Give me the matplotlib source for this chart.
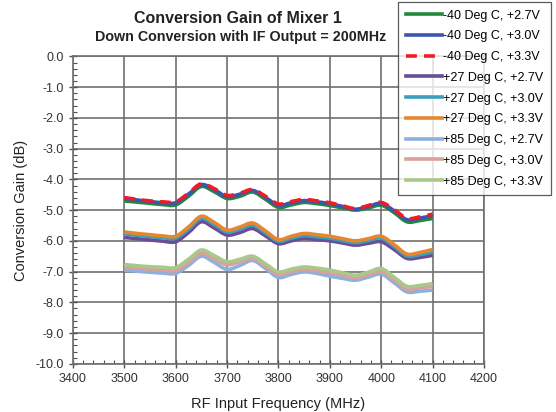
import matplotlib
matplotlib.use("Agg")
import matplotlib.pyplot as plt
from matplotlib.ticker import MultipleLocator, FormatStrFormatter
from matplotlib.path import Path
from matplotlib.patches import PathPatch
from matplotlib.lines import Line2D

plt.rcParams['font.family'] = ['Liberation Sans', 'DejaVu Sans']

freq = [3500, 3525, 3550, 3575, 3600, 3625, 3650, 3675, 3700, 3725, 3750, 3775, 3800,
        3825, 3850, 3875, 3900, 3925, 3950, 3975, 4000, 4025, 4050, 4075, 4100]

m40_27 = [-4.70, -4.74, -4.78, -4.82, -4.83, -4.55, -4.23, -4.40, -4.62, -4.55, -4.41, -4.65, -4.91,
          -4.83, -4.75, -4.79, -4.85, -4.93, -5.00, -4.93, -4.84, -5.08, -5.38, -5.34, -5.27]
m40_30 = [-4.62, -4.67, -4.72, -4.76, -4.76, -4.48, -4.17, -4.33, -4.56, -4.48, -4.36, -4.59, -4.84,
          -4.76, -4.69, -4.73, -4.79, -4.88, -4.97, -4.88, -4.78, -5.02, -5.31, -5.26, -5.18]
m40_33 = [-4.59, -4.65, -4.70, -4.73, -4.73, -4.45, -4.14, -4.30, -4.52, -4.45, -4.33, -4.55, -4.80,
          -4.72, -4.65, -4.70, -4.76, -4.86, -4.95, -4.85, -4.75, -4.98, -5.27, -5.22, -5.13]
p27_27 = [-5.89, -5.93, -5.97, -6.01, -6.03, -5.73, -5.38, -5.58, -5.81, -5.73, -5.60, -5.84, -6.09,
          -6.00, -5.92, -5.96, -6.00, -6.07, -6.14, -6.08, -6.03, -6.28, -6.57, -6.54, -6.47]
p27_30 = [-5.77, -5.82, -5.86, -5.90, -5.91, -5.62, -5.27, -5.47, -5.71, -5.62, -5.49, -5.74, -6.01,
          -5.91, -5.83, -5.87, -5.91, -5.99, -6.06, -5.99, -5.91, -6.18, -6.49, -6.45, -6.36]
p27_33 = [-5.71, -5.76, -5.80, -5.84, -5.85, -5.55, -5.20, -5.40, -5.65, -5.55, -5.42, -5.68, -5.96,
          -5.85, -5.76, -5.80, -5.85, -5.93, -6.00, -5.93, -5.85, -6.12, -6.43, -6.38, -6.28]
p85_27 = [-6.95, -6.99, -7.02, -7.05, -7.06, -6.80, -6.50, -6.70, -6.93, -6.80, -6.64, -6.90, -7.19,
          -7.09, -7.01, -7.06, -7.15, -7.22, -7.28, -7.18, -7.08, -7.36, -7.66, -7.64, -7.60]
p85_30 = [-6.85, -6.89, -6.92, -6.95, -6.96, -6.70, -6.40, -6.58, -6.78, -6.68, -6.57, -6.83, -7.10,
          -7.00, -6.93, -6.97, -7.04, -7.12, -7.20, -7.10, -6.99, -7.27, -7.57, -7.53, -7.48]
p85_33 = [-6.77, -6.81, -6.84, -6.86, -6.87, -6.60, -6.30, -6.48, -6.68, -6.60, -6.50, -6.75, -7.01,
          -6.92, -6.85, -6.89, -6.95, -7.04, -7.12, -7.02, -6.90, -7.18, -7.48, -7.45, -7.39]

labels = ['-40 Deg C, +2.7V', '-40 Deg C, +3.0V', '-40 Deg C, +3.3V',
          '+27 Deg C, +2.7V', '+27 Deg C, +3.0V', '+27 Deg C, +3.3V',
          '+85 Deg C, +2.7V', '+85 Deg C, +3.0V', '+85 Deg C, +3.3V']
series = [m40_27, m40_30, m40_33, p27_27, p27_30, p27_33, p85_27, p85_30, p85_33]
colors = ['#1f8a3c', '#3b55b0', '#ee1c25', '#6b4c96', '#3a9fbc', '#e8862e',
          '#8eb0dd', '#d9a09e', '#a8c98a']
styles = ['-', '-', '--', '-', '-', '-', '-', '-', '-']


def smooth_path(x, y):
    # excel-style smoothed line: catmull-rom segments as cubic beziers
    n = len(x)
    verts = [(x[0], y[0])]
    codes = [Path.MOVETO]
    for i in range(n - 1):
        x0, y0 = (x[i - 1], y[i - 1]) if i > 0 else (x[i], y[i])
        x3, y3 = (x[i + 2], y[i + 2]) if i + 2 < n else (x[i + 1], y[i + 1])
        c1 = (x[i] + (x[i + 1] - x0) / 6.0, y[i] + (y[i + 1] - y0) / 6.0)
        c2 = (x[i + 1] - (x3 - x[i]) / 6.0, y[i + 1] - (y3 - y[i]) / 6.0)
        verts += [c1, c2, (x[i + 1], y[i + 1])]
        codes += [Path.CURVE4] * 3
    return Path(verts, codes)


fig = plt.figure(figsize=(5.56, 4.12), dpi=100)
ax = fig.add_axes([0.131, 0.117, 0.7395, 0.746])

handles = []
for y, lab, c, ls in zip(series, labels, colors, styles):
    dash = (0, (3, 2)) if ls == '--' else '-'
    patch = PathPatch(smooth_path(freq, y), fill=False, edgecolor=c, linewidth=2.6,
                      linestyle=dash, capstyle='butt', joinstyle='round', zorder=3)
    ax.add_patch(patch)
    handles.append(Line2D([], [], color=c, linewidth=2.6, linestyle=dash, label=lab))

ax.set_xlim(3400, 4200)
ax.set_ylim(-10, 0)
ax.xaxis.set_major_locator(MultipleLocator(100))
ax.xaxis.set_minor_locator(MultipleLocator(20))
ax.yaxis.set_major_locator(MultipleLocator(1))
ax.yaxis.set_minor_locator(MultipleLocator(0.2))
ax.yaxis.set_major_formatter(FormatStrFormatter('%.1f'))
ax.grid(True, which='major', color='#707070', linewidth=1.2)
ax.tick_params(which='major', direction='inout', length=6, width=1, color='#505050',
               labelsize=9, labelcolor='#333333')
ax.tick_params(which='minor', direction='in', length=3, width=0.8, color='#505050')
ax.tick_params(axis='y', which='both', right=False)
ax.tick_params(axis='x', which='both', top=False)
for s in ax.spines.values():
    s.set_color('#707070')
    s.set_linewidth(1.2)

ax.set_xlabel('RF Input Frequency (MHz)', fontsize=10.5, color='#222222', labelpad=9)
ax.set_ylabel('Conversion Gain (dB)', fontsize=10.5, color='#222222', labelpad=5)

fig.text(0.428, 0.955, 'Conversion Gain of Mixer 1', ha='center', va='center',
         fontsize=11.5, fontweight='bold', color='#222222')
fig.text(0.432, 0.91, 'Down Conversion with IF Output = 200MHz', ha='center', va='center',
         fontsize=10.3, fontweight='bold', color='#222222')

leg = fig.legend(handles=handles, loc='upper left', bbox_to_anchor=(0.716, 0.995), fontsize=9,
                 frameon=True, fancybox=False, edgecolor='#333333', handlelength=2.9,
                 handletextpad=0.1, labelspacing=0.7, borderpad=0.6, borderaxespad=0)
leg.get_frame().set_linewidth(0.9)

fig.savefig('out.png', dpi=100)
